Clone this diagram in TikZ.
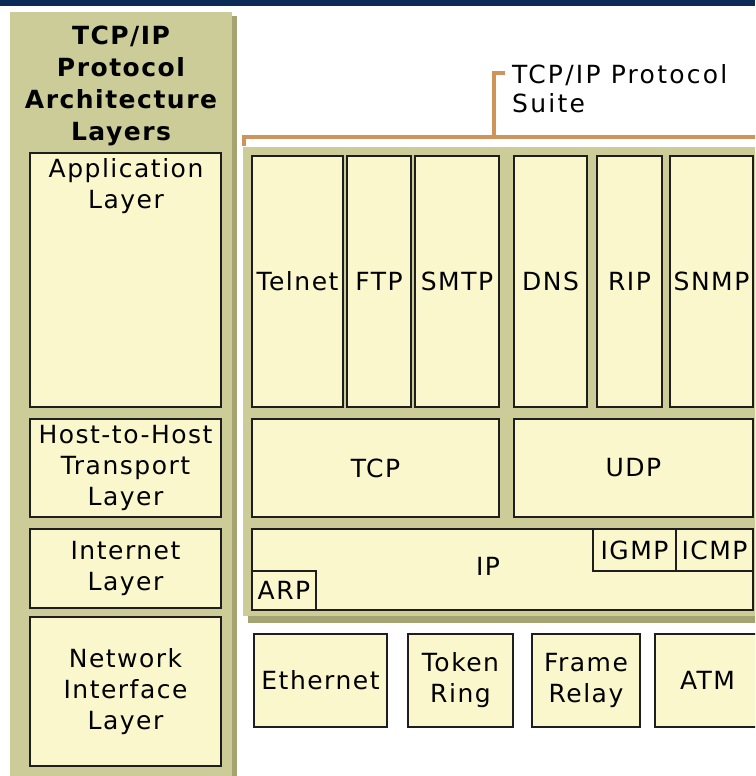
\documentclass[tikz,border=0pt]{standalone}
\usepackage{fontspec}
\newfontfamily\lbl{DejaVu Sans}[LetterSpace=6]
\newfontfamily\lblwide{DejaVu Sans}[LetterSpace=9]
\definecolor{navy}{HTML}{0B2A55}
\definecolor{olive}{HTML}{CCCC99}
\definecolor{oliveshade}{HTML}{A4A473}
\definecolor{cellfill}{HTML}{FBF7CD}
\definecolor{boxline}{HTML}{1E1E1E}
\definecolor{bracket}{HTML}{CF9459}
\tikzset{
  cell/.style={draw=boxline, fill=cellfill, line width=2.1pt, inner sep=0pt, outer sep=0pt,
    align=center, font=\lbl\fontsize{25}{31}\selectfont},
  txt/.style={inner sep=0pt, align=center, font=\lbl\fontsize{25}{31}\selectfont},
  hdr/.style={inner sep=0pt, align=center, font=\lbl\bfseries\fontsize{25}{32}\selectfont},
  brk/.style={draw=bracket, line width=3.5pt}
}
\begin{document}
\begin{tikzpicture}[x=1pt,y=-1pt]
\useasboundingbox (0,0) rectangle (755,776);
\clip (0,0) rectangle (755,776);
% top bar
\fill[navy] (0,0) rectangle (755,6);
% left panel
\fill[oliveshade] (15,16) rectangle (237,776);
\fill[olive] (10,12) rectangle (232,776);
% right panel
\fill[oliveshade] (248,152) rectangle (760,623);
\fill[olive] (243,147) rectangle (760,616);
% header
\node[hdr] (hdr) at (121,86) {TCP/IP\\Protocol\\Architecture\\Layers};
% architecture layers
\node[cell, minimum width=191pt, minimum height=254pt] (app) at (125.5,280) {};
\node[txt] (apptxt) at (126,186) {Application\\Layer};
\node[cell, minimum width=191pt, minimum height=98pt] (h2h) at (125.5,468) {Host-to-Host\\Transport\\Layer};
\node[cell, minimum width=191pt, minimum height=79pt] (inet) at (125.5,568.5) {Internet\\Layer};
\node[cell, minimum width=191pt, minimum height=149pt] (nif) at (125.5,691.5) {Network\\Interface\\Layer};
% suite bracket
\coordinate (bl) at (244,146);
\coordinate (bc) at (494,137);
\coordinate (bt) at (505,73);
\draw[brk] (bl) |- (760,137);
\draw[brk] (bc) |- (bt);
\node[txt, align=left, anchor=west, font=\lblwide\fontsize{25}{29}\selectfont] (suite) at (512,89) {TCP/IP Protocol\\Suite};
% application protocols
\node[cell, minimum width=91pt, minimum height=251pt] (telnet) at (297.5,281.5) {Telnet};
\node[cell, minimum width=64pt, minimum height=251pt] (ftp) at (379,281.5) {FTP};
\node[cell, minimum width=84pt, minimum height=251pt] (smtp) at (457,281.5) {SMTP};
\node[cell, minimum width=73pt, minimum height=251pt] (dns) at (550.5,281.5) {DNS};
\node[cell, minimum width=65pt, minimum height=251pt] (rip) at (629.5,281.5) {RIP};
\node[cell, minimum width=83pt, minimum height=251pt] (snmp) at (711.5,281.5) {SNMP};
% transport
\node[cell, minimum width=247pt, minimum height=98pt] (tcp) at (375.5,468) {TCP};
\node[cell, minimum width=239pt, minimum height=98pt] (udp) at (633.5,468) {UDP};
% internet
\node[cell, minimum width=501pt, minimum height=81pt] (ip) at (502.5,569.5) {};
\node[txt] (iptxt) at (488,566) {IP};
\node[cell, minimum width=83pt, minimum height=42pt] (igmp) at (634.5,550) {IGMP};
\node[cell, minimum width=77pt, minimum height=42pt] (icmp) at (714.5,550) {ICMP};
\node[cell, minimum width=64pt, minimum height=39pt] (arp) at (284,590.5) {ARP};
% network interface
\node[cell, minimum width=133pt, minimum height=93pt] (eth) at (320.5,680.5) {Ethernet};
\node[cell, minimum width=105pt, minimum height=93pt] (tok) at (460.5,680.5) {Token\\Ring};
\node[cell, minimum width=108pt, minimum height=93pt] (frm) at (586,680.5) {Frame\\Relay};
\node[cell, minimum width=105pt, minimum height=93pt] (atm) at (707.5,680.5) {ATM};
\end{tikzpicture}
\end{document}
